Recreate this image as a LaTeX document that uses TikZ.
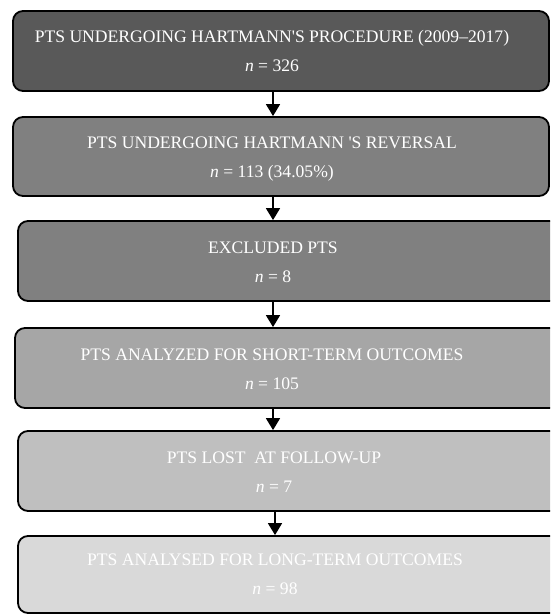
\documentclass[tikz,border=0pt]{standalone}
\usepackage{fontspec}
\setmainfont{Liberation Serif}
\usetikzlibrary{arrows.meta}
\definecolor{cA}{gray}{0.35}
\definecolor{cB}{gray}{0.50}
\definecolor{cC}{gray}{0.50}
\definecolor{cD}{gray}{0.65}
\definecolor{cE}{gray}{0.75}
\definecolor{cF}{gray}{0.85}
\tikzset{
  flowbox/.style={draw=black, line width=1.8pt, rounded corners=10pt, inner sep=0pt},
  txt/.style={text=white, anchor=base, inner sep=0pt, font=\fontsize{17.6}{20}\selectfont},
  arr/.style={line width=1.6pt, -{Triangle[length=12pt,width=14pt]}}
}
\begin{document}
\begin{tikzpicture}[x=1pt,y=-1pt]
\useasboundingbox (0,0) rectangle (550,615);
\clip (0,0) rectangle (550,615);
% boxes
\node[flowbox, fill=cA, minimum width=536pt, minimum height=80pt] (b1) at (281,51) {};
\node[flowbox, fill=cB, minimum width=536pt, minimum height=79pt] (b2) at (281,156.5) {};
\node[flowbox, fill=cC, minimum width=552pt, minimum height=80pt] (b3) at (294,261) {};
\node[flowbox, fill=cD, minimum width=555pt, minimum height=80pt] (b4) at (292.5,368) {};
\node[flowbox, fill=cE, minimum width=552pt, minimum height=80pt] (b5) at (294,471) {};
\node[flowbox, fill=cF, minimum width=552pt, minimum height=77pt] (b6) at (294,574.5) {};
% texts
\node[txt] (t1a) at (272,43) {PTS UNDERGOING HARTMANN\textquotesingle S PROCEDURE (2009--2017)};
\node[txt] (t1b) at (272,72) {\textit{n} = 326};
\node[txt] (t2a) at (272,148.5) {PTS UNDERGOING HARTMANN \textquotesingle S REVERSAL};
\node[txt] (t2b) at (272,177.5) {\textit{n} = 113 (34.05\%)};
\node[txt] (t3a) at (273,253) {EXCLUDED PTS};
\node[txt] (t3b) at (273,282) {\textit{n} = 8};
\node[txt] (t4a) at (272,360) {PTS ANALYZED FOR SHORT-TERM OUTCOMES};
\node[txt] (t4b) at (272,389) {\textit{n} = 105};
\node[txt] (t5a) at (274,463) {PTS LOST\ \ AT FOLLOW-UP};
\node[txt] (t5b) at (274,492) {\textit{n} = 7};
\node[txt] (t6a) at (275,565.5) {PTS ANALYSED FOR LONG-TERM OUTCOMES};
\node[txt] (t6b) at (275,594.5) {\textit{n} = 98};
% arrows
\coordinate (ax) at (273,0);
\coordinate (ay) at (275,0);
\draw[arr] (b1.south -| ax) -- (b2.north -| ax);
\draw[arr] (b2.south -| ax) -- (b3.north -| ax);
\draw[arr] (b3.south -| ax) -- (b4.north -| ax);
\draw[arr] (b4.south -| ax) -- (b5.north -| ax);
\draw[arr] (b5.south -| ay) -- (b6.north -| ay);
\end{tikzpicture}
\end{document}
